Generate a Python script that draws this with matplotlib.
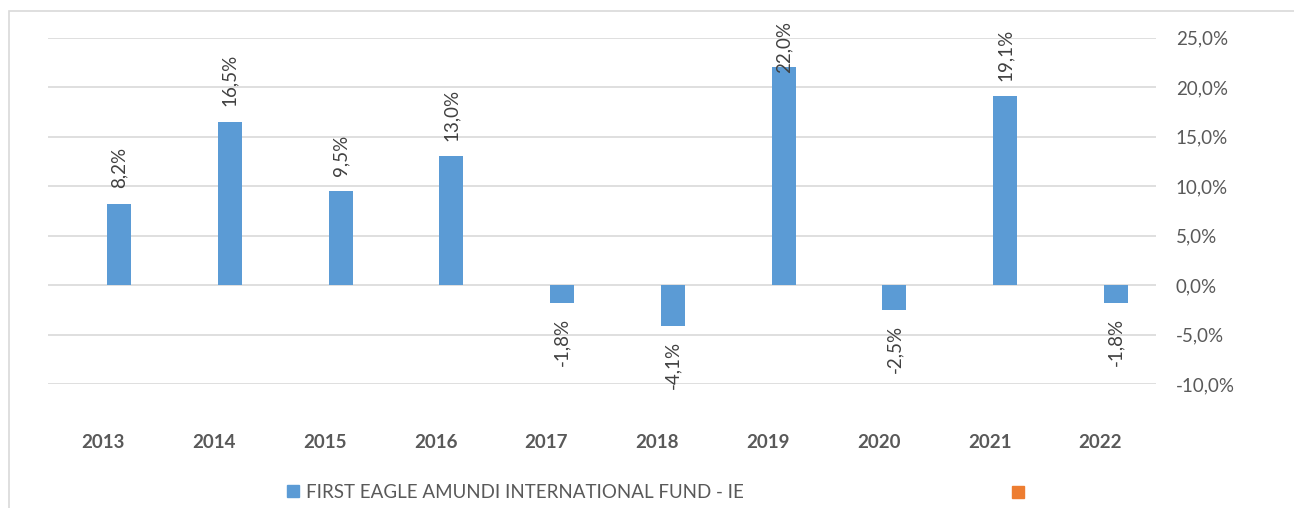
import matplotlib as mpl
mpl.use("agg")
import matplotlib.pyplot as plt
from matplotlib.patches import Patch, Rectangle
import numpy as np

# data
years = ["2013", "2014", "2015", "2016", "2017", "2018", "2019", "2020", "2021", "2022"]
returns = [8.2, 16.5, 9.5, 13.0, -1.8, -4.1, 22.0, -2.5, 19.1, -1.8]
series_name = "FIRST EAGLE AMUNDI INTERNATIONAL FUND - IE"
y_ticks = [-10, -5, 0, 5, 10, 15, 20, 25]

color_bar = "#5b9bd5"
color_other = "#ed7d31"
color_grid = "#d9d9d9"
color_tick = "#595959"
color_label = "#404040"

plt.rcParams["font.family"] = ["Lato", "DejaVu Sans"]

W, H = 1294, 508
fig = plt.figure(figsize=(W / 100, H / 100), dpi=100)
ax = fig.add_axes([48 / W, 1 - 384 / H, (1155.7 - 48) / W, (384 - 37.5) / H])

# chart border (cropped on right/bottom)
fig.patches.append(Rectangle((9 / W, -0.1), 1.2, 1 - 11 / H + 0.1, transform=fig.transFigure,
                             fill=False, edgecolor=color_grid, linewidth=1.2))

x = np.arange(len(years))
offset = 0.141
width = 0.217

ax.bar(x + offset, returns, width=width, color=color_bar, zorder=3)

for i, v in enumerate(returns):
    txt = f"{v:.1f}%".replace(".", ",")
    if v >= 0:
        ax.text(x[i] + offset, min(v + 1.55, 21.45), txt, rotation=90, ha="center", va="bottom",
                fontsize=13.5, color=color_label, zorder=4)
    else:
        ax.text(x[i] + offset, v - 1.5, txt, rotation=90, ha="center", va="top",
                fontsize=13.5, color=color_label, zorder=4)

ax.set_xlim(-0.5, 9.5)
ax.set_ylim(-10, 25)
ax.set_yticks(y_ticks)
ax.set_yticklabels([f"{t:.1f}%".replace(".", ",") for t in y_ticks])
ax.yaxis.tick_right()
ax.grid(axis="y", color=color_grid, linewidth=1.2, zorder=0)
ax.set_xticks(x)
ax.set_xticklabels(years, fontweight="bold")
ax.tick_params(axis="y", length=0, pad=14.5, labelsize=13.5, labelcolor=color_tick)
ax.tick_params(axis="x", length=0, pad=36, labelsize=13.5, labelcolor=color_tick)
for s in ax.spines.values():
    s.set_visible(False)

fig.legend(handles=[Patch(color=color_bar)], labels=[series_name], loc="center left",
           bbox_to_anchor=(287 / W, 1 - 492 / H), frameon=False, fontsize=13.5,
           handlelength=0.65, handleheight=0.65, handletextpad=0.35, borderpad=0,
           borderaxespad=0, labelcolor=color_tick)
fig.legend(handles=[Patch(color=color_other)], labels=[""], loc="center left",
           bbox_to_anchor=(1012 / W, 1 - 493 / H), frameon=False, fontsize=13.5,
           handlelength=0.65, handleheight=0.65, handletextpad=0, borderpad=0,
           borderaxespad=0)

fig.savefig("out.png", dpi=100)
